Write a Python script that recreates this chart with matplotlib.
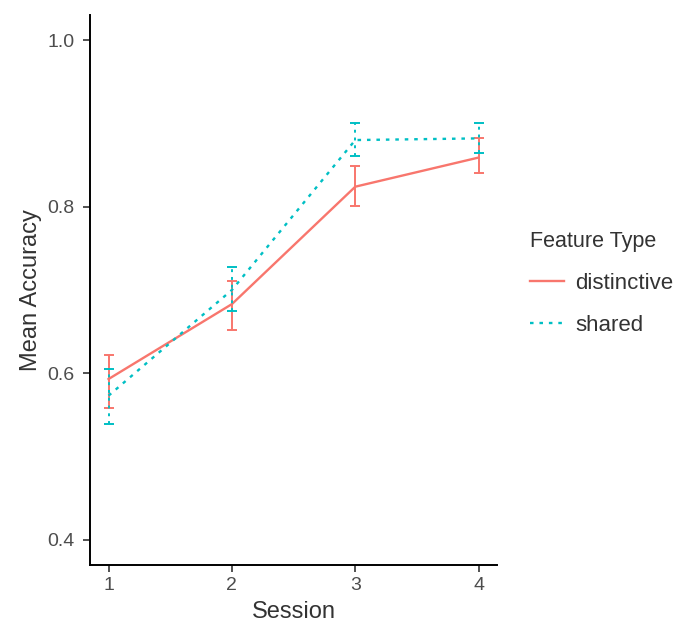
import numpy as np
import matplotlib
matplotlib.use("Agg")
import matplotlib.pyplot as plt

plt.rcParams["font.family"] = ["Liberation Sans", "DejaVu Sans"]

sessions = [1, 2, 3, 4]
# distinctive: mean, lower, upper
dist_mean = [0.593, 0.683, 0.824, 0.859]
dist_lo = [0.558, 0.652, 0.801, 0.840]
dist_hi = [0.622, 0.711, 0.849, 0.883]
# shared
shar_mean = [0.573, 0.700, 0.880, 0.882]
shar_lo = [0.539, 0.675, 0.861, 0.864]
shar_hi = [0.605, 0.728, 0.900, 0.900]

RED, CYAN = "#F8766D", "#00BFC4"
TXT = "#333333"
TICK = "#4D4D4D"

fig = plt.figure(figsize=(6.82, 6.31), dpi=100)
ax = fig.add_axes([0.132, 0.105, 0.597, 0.871])

for m, lo, hi, col, ls, lab in [(dist_mean, dist_lo, dist_hi, RED, "-", "distinctive"),
                                (shar_mean, shar_lo, shar_hi, CYAN, (0, (1.5, 2.5)), "shared")]:
    m, lo, hi = np.array(m), np.array(lo), np.array(hi)
    ax.plot(sessions, m, color=col, ls=ls, lw=1.7, label=lab)
    eb = ax.errorbar(sessions, m, yerr=[m - lo, hi - m], fmt="none", ecolor=col,
                     elinewidth=1.4, capsize=3.5, capthick=1.4)
    eb[2][0].set_linestyle(ls)

ax.set_xlim(0.85, 4.15)
ax.set_ylim(0.37, 1.03)
ax.set_xticks(sessions)
ax.set_yticks([0.4, 0.6, 0.8, 1.0])
ax.set_yticklabels(["0.4", "0.6", "0.8", "1.0"])
for s in ["top", "right"]:
    ax.spines[s].set_visible(False)
for s in ["left", "bottom"]:
    ax.spines[s].set_linewidth(1.4)
ax.tick_params(length=5, width=1.2, labelsize=14, labelcolor=TICK, color=TXT)
ax.tick_params(axis="y", pad=6)
ax.tick_params(axis="x", pad=4)
ax.set_xlabel("Session", fontsize=17, color=TXT, labelpad=5)
ax.set_ylabel("Mean Accuracy", fontsize=17, color=TXT, labelpad=4)

leg = ax.legend(title="Feature Type", loc="upper left",
                bbox_to_anchor=(530 / 682, 1 - 231 / 631), bbox_transform=fig.transFigure,
                frameon=False, fontsize=16, title_fontsize=15.5, handlelength=1.55,
                handletextpad=0.5, labelspacing=0.95, borderpad=0, borderaxespad=0)
leg._legend_box.align = "left"
for t in leg.get_texts():
    t.set_color(TXT)
leg.get_title().set_color(TXT)

fig.savefig("out.png", dpi=100)
